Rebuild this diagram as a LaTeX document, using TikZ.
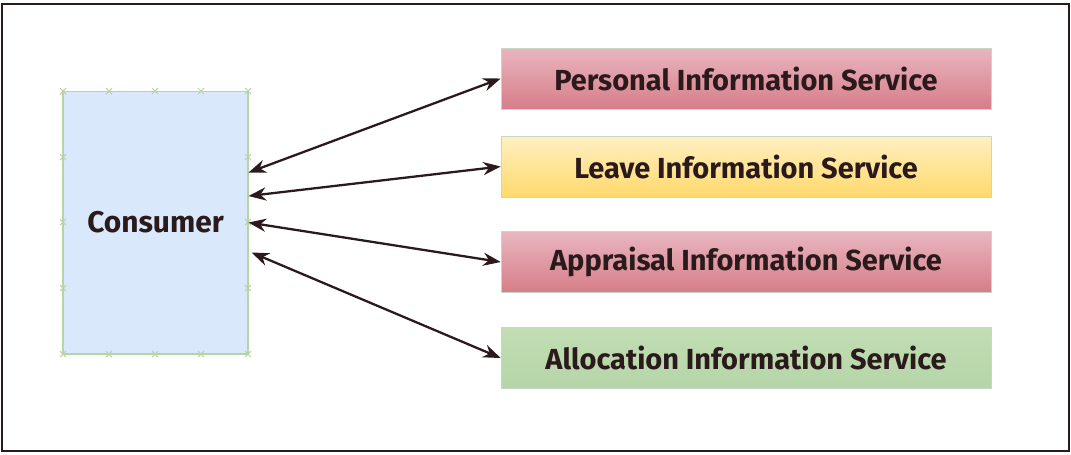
\documentclass[tikz,border=0pt]{standalone}
\usepackage{fontspec}
\setmainfont{Fira Sans}
\usetikzlibrary{arrows.meta}

\definecolor{inkbrown}{HTML}{2B1A1C}
\definecolor{consfill}{HTML}{DAE8FC}
\definecolor{edgegreen}{HTML}{B5D5A7}
\definecolor{pinktop}{HTML}{E8B6C0}
\definecolor{pinkbot}{HTML}{D67D88}
\definecolor{yellowtop}{HTML}{FFF0C2}
\definecolor{yellowbot}{HTML}{FFD96C}
\definecolor{greentop}{HTML}{C2DDB4}
\definecolor{greenbot}{HTML}{B5D5A7}

\tikzset{
  frame/.style={draw=inkbrown, line width=1.3pt},
  consumer/.style={draw=edgegreen, fill=consfill, line width=0.6pt,
    minimum width=3.7cm, minimum height=5.26cm,
    font=\fontsize{17}{20}\selectfont\bfseries, text=inkbrown},
  service/.style={draw=edgegreen!70!gray!60, line width=0.4pt,
    minimum width=9.8cm, minimum height=1.22cm,
    font=\fontsize{16.5}{19}\selectfont\bfseries, text=inkbrown},
  pinkbox/.style={service, top color=pinktop, bottom color=pinkbot},
  yellowbox/.style={service, top color=yellowtop, bottom color=yellowbot},
  greenbox/.style={service, top color=greentop, bottom color=greenbot},
  link/.style={draw=inkbrown, line width=1.3pt,
    {Stealth[length=10pt,width=7.5pt]}-{Stealth[length=10pt,width=7.5pt]}},
  cpoint/.style={draw=edgegreen, line width=0.6pt}
}

\begin{document}
\begin{tikzpicture}[x=0.02cm, y=-0.02cm]
    \useasboundingbox (0,0) rectangle (1071,454);
    \draw[frame] (2,4) rectangle (1069,451);

    \node[consumer] (cons) at (155.5,222.5) {Consumer};

    \node[pinkbox]   (pers)  at (746,78.5)  {Personal Information Service};
    \node[yellowbox] (leave) at (746,166.5) {Leave Information Service};
    \node[pinkbox]   (appr)  at (746,262)   {Appraisal Information Service};
    \node[greenbox]  (alloc) at (746,358)   {Allocation Information Service};

    % connection points on the consumer box
    \foreach \x in {63,109,155,201,248} {
        \draw[cpoint] (\x-3,88)--(\x+3,94) (\x-3,94)--(\x+3,88);
        \draw[cpoint] (\x-3,351)--(\x+3,357) (\x-3,357)--(\x+3,351);
    }
    \foreach \y in {157,222,288} {
        \draw[cpoint] (60,\y-3)--(66,\y+3) (60,\y+3)--(66,\y-3);
        \draw[cpoint] (245,\y-3)--(251,\y+3) (245,\y+3)--(251,\y-3);
    }

    \draw[link] ([yshift=1cm]cons.east) -- (pers.west);
    \draw[link] ([yshift=0.53cm]cons.east) -- (leave.west);
    \draw[link] (cons.east) -- (appr.west);
    \draw[link] ([xshift=0.06cm,yshift=-0.6cm]cons.east) -- (alloc.west);
\end{tikzpicture}
\end{document}
